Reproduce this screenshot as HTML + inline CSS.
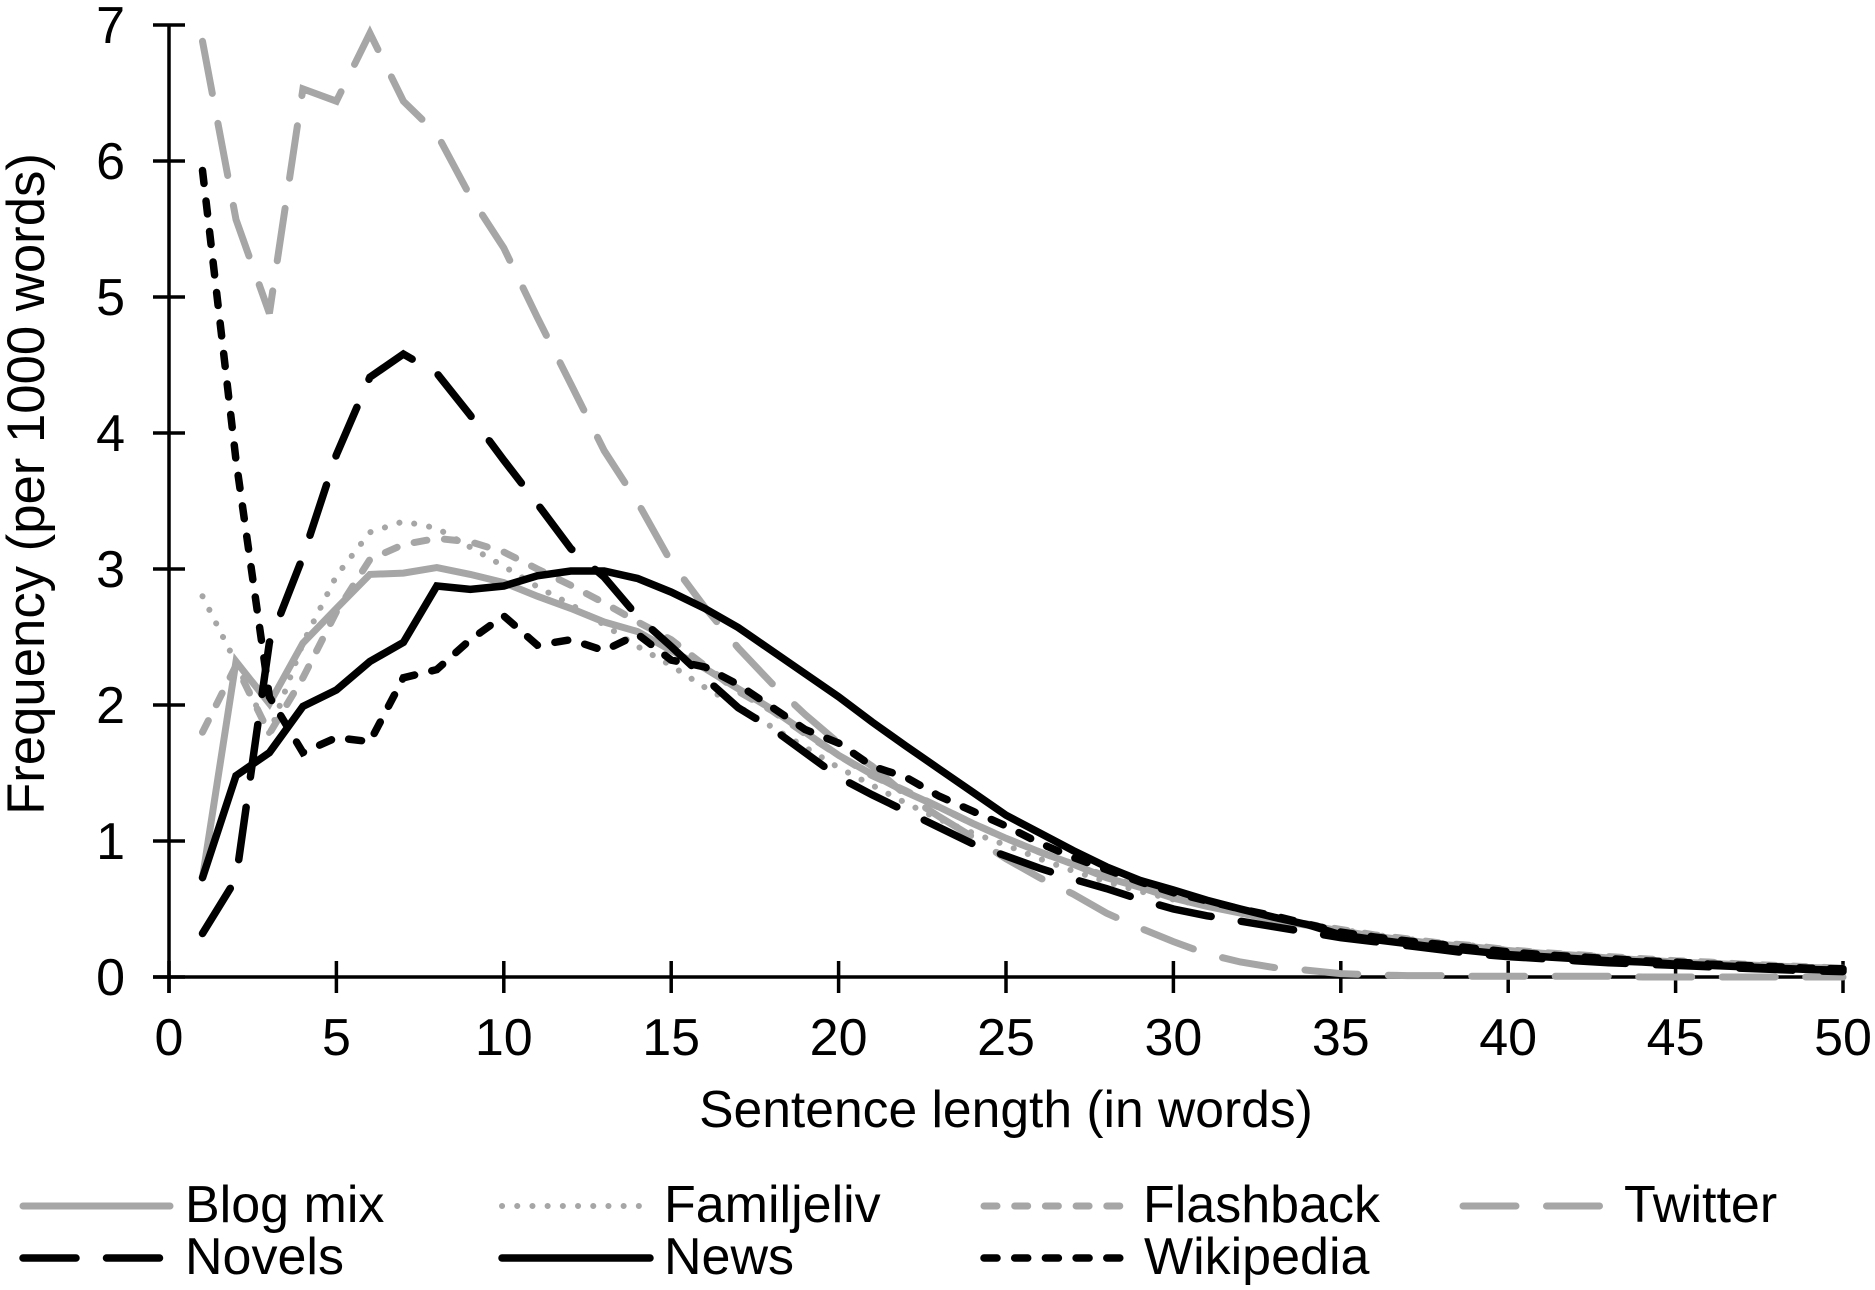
<!DOCTYPE html>
<html lang="en">
<head>
<meta charset="utf-8">
<title>Sentence length frequency</title>
<style>
html,body{margin:0;padding:0;background:#fff;}
svg{display:block;}
text{font-family:"Liberation Sans",Arial,sans-serif;font-size:52px;fill:#000;}
</style>
</head>
<body>
<svg id="chart" xmlns="http://www.w3.org/2000/svg" width="1875" height="1290" viewBox="0 0 1875 1290">
  <rect x="0" y="0" width="1875" height="1290" fill="#fff"/>
  <g id="axes"></g>
  <g id="series"></g>
  <text x="1006" y="1127" text-anchor="middle" style="font-size:51.6px">Sentence length (in words)</text>
  <text transform="translate(44,484) rotate(-90)" text-anchor="middle" style="font-size:52.7px">Frequency (per 1000 words)</text>
  <g stroke-linecap="round" fill="none">
    <line x1="23" y1="1206" x2="170" y2="1206" stroke="#a6a6a6" stroke-width="7"/>
    <text x="185" y="1222">Blog mix</text>
    <line x1="502" y1="1206" x2="643" y2="1206" stroke="#a6a6a6" stroke-width="6" stroke-dasharray="0.1 15.1"/>
    <text x="664" y="1222">Familjeliv</text>
    <line x1="984" y1="1206" x2="1120" y2="1206" stroke="#a6a6a6" stroke-width="7" stroke-dasharray="13 17.7"/>
    <text x="1143" y="1222">Flashback</text>
    <line x1="1463" y1="1206" x2="1600" y2="1206" stroke="#a6a6a6" stroke-width="7" stroke-dasharray="53 30.5"/>
    <text x="1624" y="1222">Twitter</text>
    <line x1="23" y1="1258" x2="161" y2="1258" stroke="#000" stroke-width="7.5" stroke-dasharray="53 30.5"/>
    <text x="185" y="1274">Novels</text>
    <line x1="502" y1="1258" x2="650" y2="1258" stroke="#000" stroke-width="7.5"/>
    <text x="664" y="1274">News</text>
    <line x1="984" y1="1258" x2="1120" y2="1258" stroke="#000" stroke-width="7.5" stroke-dasharray="13 17.7"/>
    <text x="1144" y="1274">Wikipedia</text>
  </g>
</svg>
<script>
const sentenceLengths = [1,2,3,4,5,6,7,8,9,10,11,12,13,14,15,16,17,18,19,20,21,22,23,24,25,26,27,28,29,30,31,32,33,34,35,36,37,38,39,40,41,42,43,44,45,46,47,48,49,50];
const xTickLabels = [0,5,10,15,20,25,30,35,40,45,50];
const yTickLabels = [0,1,2,3,4,5,6,7];

const blogMix = [0.73,2.32,2.01,2.455,2.71,2.96,2.97,3.01,2.96,2.9,2.8,2.71,2.61,2.54,2.4,2.27,2.12,1.97,1.8,1.63,1.49,1.36,1.25,1.13,1.02,0.92,0.83,0.73,0.66,0.58,0.52,0.47,0.42,0.38,0.34,0.3,0.27,0.24,0.22,0.195,0.175,0.16,0.14,0.125,0.11,0.1,0.09,0.08,0.07,0.065];
const familjeliv = [2.8,2.31,1.79,2.455,2.95,3.27,3.35,3.3,3.16,3.02,2.87,2.74,2.59,2.43,2.29,2.13,1.99,1.84,1.69,1.54,1.41,1.28,1.16,1.06,0.97,0.87,0.78,0.7,0.63,0.57,0.52,0.48,0.43,0.39,0.35,0.31,0.28,0.25,0.23,0.2,0.18,0.165,0.15,0.13,0.12,0.11,0.09,0.08,0.07,0.065];
const flashback = [1.8,2.29,1.79,2.2,2.685,3.07,3.18,3.225,3.2,3.125,3.0,2.88,2.75,2.61,2.48,2.29,2.1,1.96,1.79,1.63,1.48,1.37,1.25,1.13,1.02,0.92,0.83,0.74,0.66,0.59,0.53,0.48,0.43,0.39,0.35,0.31,0.28,0.25,0.23,0.2,0.18,0.165,0.15,0.135,0.12,0.11,0.095,0.085,0.075,0.065];
const twitter = [6.88,5.57,4.88,6.53,6.44,6.94,6.44,6.2,5.74,5.36,4.85,4.36,3.87,3.49,3.05,2.72,2.42,2.16,1.93,1.72,1.55,1.34,1.18,1.03,0.87,0.73,0.61,0.47,0.36,0.26,0.17,0.11,0.07,0.05,0.025,0.015,0.01,0.01,0.005,0.005,0.005,0.005,0.005,0,0,0,0,0,0,0];
const novels = [0.32,0.72,2.46,3.09,3.84,4.41,4.58,4.44,4.13,3.8,3.48,3.15,2.94,2.65,2.43,2.2,1.98,1.83,1.65,1.47,1.34,1.22,1.1,0.98,0.89,0.8,0.72,0.65,0.57,0.5,0.45,0.41,0.37,0.33,0.29,0.26,0.23,0.2,0.17,0.15,0.135,0.12,0.105,0.095,0.085,0.075,0.065,0.055,0.045,0.04];
const news = [0.73,1.48,1.65,1.99,2.11,2.32,2.46,2.875,2.85,2.875,2.95,2.985,2.985,2.93,2.83,2.71,2.57,2.4,2.23,2.06,1.875,1.7,1.53,1.36,1.19,1.06,0.93,0.81,0.71,0.64,0.565,0.5,0.44,0.385,0.31,0.275,0.245,0.215,0.19,0.165,0.15,0.135,0.12,0.11,0.095,0.085,0.075,0.065,0.055,0.05];
const wikipedia = [5.93,3.8,2.06,1.65,1.76,1.73,2.2,2.26,2.48,2.655,2.44,2.48,2.4,2.52,2.33,2.28,2.15,1.985,1.82,1.72,1.55,1.47,1.33,1.22,1.11,0.985,0.88,0.79,0.7,0.62,0.56,0.5,0.45,0.39,0.33,0.295,0.265,0.24,0.21,0.185,0.165,0.15,0.135,0.12,0.11,0.095,0.085,0.075,0.065,0.06];

const NS = 'http://www.w3.org/2000/svg';
function xPos(v){ return 169 + (1843 - 169) * v / 50; }
function yPos(v){ return 977 - (977 - 25) * v / 7; }

const axes = document.getElementById('axes');
const seriesGroup = document.getElementById('series');

function mk(tag, parent, props){
  const el = document.createElementNS(NS, tag);
  for (const k in props) el.setAttribute(k, props[k]);
  parent.appendChild(el);
  return el;
}

const xAxisLine = mk('line', axes, {x1:xPos(0)-16, y1:yPos(0), x2:xPos(50), y2:yPos(0), stroke:'#000', 'stroke-width':3.5});


const yAxisLine = mk('line', axes, {x1:xPos(0), y1:yPos(0)+16, x2:xPos(0), y2:yPos(7), stroke:'#000', 'stroke-width':3.5});



xTickLabels.forEach(function(t){
  const tick = mk('line', axes, {x1:xPos(t), y1:yPos(0)-16, x2:xPos(t), y2:yPos(0)+16, stroke:'#000', 'stroke-width':3.5});
  
  
  const label = mk('text', axes, {x:xPos(t), y:1055, 'text-anchor':'middle'});
  label.textContent = t;
  
  
});

yTickLabels.forEach(function(t){
  const tick = mk('line', axes, {x1:xPos(0)-16, y1:yPos(t), x2:xPos(0)+16, y2:yPos(t), stroke:'#000', 'stroke-width':3.5});
  
  
  const label = mk('text', axes, {x:125, y:yPos(t)+18, 'text-anchor':'end'});
  label.textContent = t;
  
  
});

function drawSeries(values, color, width, dash){
  const pts = values.map(function(v, i){
    return xPos(sentenceLengths[i]).toFixed(1) + ',' + yPos(v).toFixed(1);
  }).join(' ');
  const line = mk('polyline', seriesGroup, {points:pts, fill:'none', stroke:color, 'stroke-width':width, 'stroke-linecap':'round', 'stroke-linejoin':'miter'});
  if (dash) line.setAttribute('stroke-dasharray', dash);
  return line;
}

const GRAY = '#a6a6a6', BLACK = '#000';
const lineBlog = drawSeries(blogMix, GRAY, 7, '');


const lineFam = drawSeries(familjeliv, GRAY, 6, '0.1 15.1');


const lineFlash = drawSeries(flashback, GRAY, 7, '13 17.7');


const lineTwitter = drawSeries(twitter, GRAY, 7, '53 30.5');


const lineNovels = drawSeries(novels, BLACK, 7.5, '53 30.5');


const lineNews = drawSeries(news, BLACK, 7.5, '');


const lineWiki = drawSeries(wikipedia, BLACK, 7.5, '13 17.7');


</script>
</body>
</html>
